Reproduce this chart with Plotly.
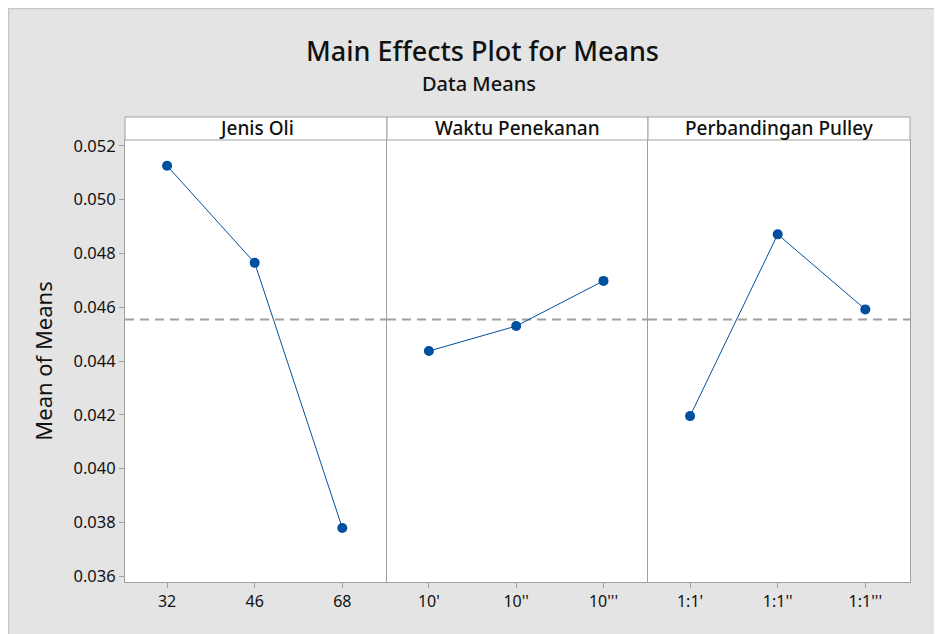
import plotly.graph_objects as go
from plotly.subplots import make_subplots

factors = ["Jenis Oli", "Waktu Penekanan", "Perbandingan Pulley"]
levels_oli = ["32", "46", "68"]
levels_waktu = ["10'", "10''", "10'''"]
levels_pulley = ["1:1'", "1:1''", "1:1'''"]
means_oli = [0.05126, 0.04765, 0.03779]
means_waktu = [0.04437, 0.04530, 0.04698]
means_pulley = [0.04195, 0.04871, 0.04592]
y_ticks = [0.036, 0.038, 0.040, 0.042, 0.044, 0.046, 0.048, 0.050, 0.052]

levels = [levels_oli, levels_waktu, levels_pulley]
means = [means_oli, means_waktu, means_pulley]
grand_mean = sum(means_oli + means_waktu + means_pulley) / 9

OFF = 8  # page body margin
W, H = 942 - OFF, 634 - OFF
ML, MR, MT, MB = 125 - OFF, 32, 117 - OFF, 52
PW = W - ML - MR
PH = H - MT - MB

def px_x(p):  # p in window pixels
    return (p - OFF - ML) / PW

def px_y(p):
    return (H - MB - (p - OFF)) / PH

strip_bottom = px_y(140)
domains = [[0, px_x(387)], [px_x(387), px_x(648)], [px_x(648), 1]]

BLUE = "#0050a0"
GRID = "#a0a0a0"
FONT = "Noto Sans"
TXT = "#111111"

fig = make_subplots(rows=1, cols=3, shared_yaxes=True, horizontal_spacing=0)

for i in range(3):
    fig.add_trace(go.Scatter(
        x=levels[i], y=means[i], mode="lines+markers",
        line=dict(color=BLUE, width=1),
        marker=dict(color=BLUE, size=10),
        showlegend=False, hoverinfo="x+y"), row=1, col=i + 1)
    xa = "xaxis" if i == 0 else f"xaxis{i+1}"
    ya = "yaxis" if i == 0 else f"yaxis{i+1}"
    fig.layout[xa].update(
        domain=domains[i], type="category", range=[-0.48, 2.51],
        showline=True, mirror=True, linecolor=GRID, linewidth=1,
        ticks="outside", ticklen=5, tickcolor=GRID, showgrid=False,
        zeroline=False, tickfont=dict(family=FONT, size=16, color=TXT))
    fig.layout[ya].update(
        domain=[0, strip_bottom], range=[0.03578, 0.05222],
        showline=True, mirror=(i == 2), linecolor=GRID, linewidth=1,
        showgrid=False, zeroline=False)
    xref = "x" if i == 0 else f"x{i+1}"
    yref = "y" if i == 0 else f"y{i+1}"
    fig.add_shape(type="line", xref=f"{xref} domain", yref=yref,
                  x0=0, x1=1, y0=grand_mean, y1=grand_mean,
                  line=dict(color="#a0a0a0", width=2, dash="9px,6px"), layer="below")
    fig.add_shape(type="rect", xref="paper", yref="paper",
                  x0=domains[i][0], x1=domains[i][1], y0=strip_bottom, y1=1,
                  fillcolor="white", line=dict(color=GRID, width=1))
    fig.add_annotation(xref="paper", yref="paper",
                       x=(domains[i][0] + domains[i][1]) / 2, y=(strip_bottom + 1) / 2,
                       text=factors[i], showarrow=False,
                       xanchor="center", yanchor="middle",
                       font=dict(family=FONT, size=19, color=TXT, weight=500))

fig.layout.yaxis.update(
    tickvals=y_ticks, ticktext=[f"{v:.3f}" for v in y_ticks],
    ticks="outside", ticklen=5, tickcolor=GRID,
    tickfont=dict(family=FONT, size=16.5, color=TXT),
    title=dict(text="Mean of Means", font=dict(family=FONT, size=22, color=TXT), standoff=14))
for k in ["yaxis2", "yaxis3"]:
    fig.layout[k].update(showticklabels=False, ticks="")

# thin light border at the top and left edges of the page area
fig.add_shape(type="line", xref="paper", yref="paper",
              x0=px_x(8), x1=px_x(942), y0=px_y(8.5), y1=px_y(8.5),
              line=dict(color="#c6c6c6", width=1.5))
fig.add_shape(type="line", xref="paper", yref="paper",
              x0=px_x(8.5), x1=px_x(8.5), y0=px_y(634), y1=px_y(8),
              line=dict(color="#c6c6c6", width=1.5))

fig.add_annotation(xref="paper", yref="paper", x=px_x(482), y=px_y(50),
                   xanchor="center", yanchor="middle", showarrow=False,
                   text="Main Effects Plot for Means",
                   font=dict(family=FONT, size=27, color=TXT, weight=500))
fig.add_annotation(xref="paper", yref="paper", x=px_x(479), y=px_y(83),
                   xanchor="center", yanchor="middle", showarrow=False,
                   text="Data Means",
                   font=dict(family=FONT, size=20, color=TXT, weight=500))

fig.update_layout(
    width=W, height=H,
    margin=dict(l=ML, r=MR, t=MT, b=MB),
    paper_bgcolor="#e4e4e4", plot_bgcolor="white",
    font=dict(family=FONT),
)

fig.write_html("out.html")
